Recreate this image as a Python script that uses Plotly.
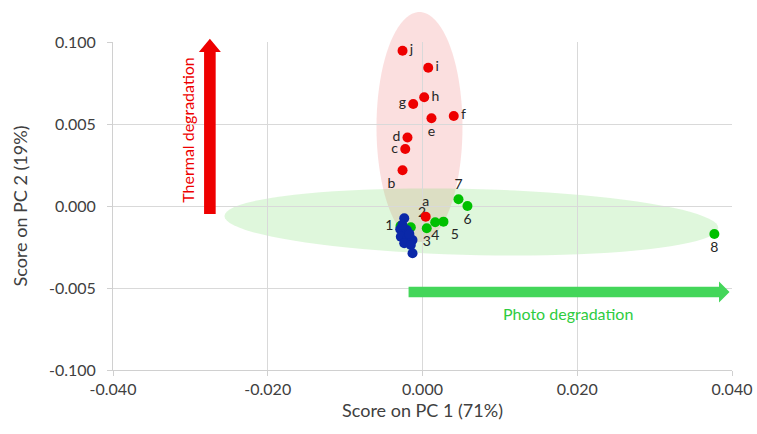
import math
import plotly.graph_objects as go

# ---------------- data ----------------
# PC2 axis is drawn on an index scale: tick positions -2..2 carry the labels below
y_tick_pos = [-2, -1, 0, 1, 2]
y_tick_text = ["-0.100", "-0.005", "0.000", "0.005", "0.100"]
x_tick_vals = [-0.04, -0.02, 0.0, 0.02, 0.04]
x_tick_text = ["-0.040", "-0.020", "0.000", "0.020", "0.040"]

red_labels = ["j", "i", "h", "g", "f", "e", "d", "c", "b", "a"]
red_x = [-0.00258, 0.00074, 0.00022, -0.00120, 0.00404, 0.00116, -0.00194, -0.00223, -0.00258, 0.00041]
red_y = [1.894, 1.687, 1.326, 1.244, 1.098, 1.070, 0.835, 0.695, 0.435, -0.130]
red_pos = ["middle right", "middle right", "middle right", "middle left", "middle right",
           "bottom center", "middle left", "middle left", "bottom left", "top center"]

green_labels = ["1", "2", "3", "4", "5", "6", "7", "8"]
green_x = [-0.00284, -0.00151, 0.00055, 0.00164, 0.00271, 0.00581, 0.00465, 0.03772]
green_y = [-0.244, -0.260, -0.272, -0.199, -0.191, 0.000, 0.082, -0.341]
green_pos = ["middle left", "top right", "bottom center", "bottom center", "bottom right",
             "bottom center", "top center", "bottom center"]

blue_x = [-0.00236, -0.00288, -0.00203, -0.00280, -0.00194, -0.00129, -0.00236, -0.00151, -0.00129, -0.00260, -0.00170]
blue_y = [-0.150, -0.284, -0.293, -0.374, -0.394, -0.415, -0.455, -0.476, -0.577, -0.230, -0.340]

# ---------------- geometry helpers ----------------
W, H = 757, 434
ML, MR, MT, MB = 113, 25, 42, 64
PW, PH = W - ML - MR, H - MT - MB
XR = (-0.04, 0.04)
YR = (-2.0, 2.0)


def to_paper(x, y):
    return (x - XR[0]) / (XR[1] - XR[0]), (y - YR[0]) / (YR[1] - YR[0])


def px_to_paper(dx_px, dy_px):
    return dx_px / PW, dy_px / PH


def ellipse_path(cx, cy, a_px, b_px, rot_deg, n=90):
    px0, py0 = to_paper(cx, cy)
    r = math.radians(rot_deg)
    pts = []
    for i in range(n):
        t = 2 * math.pi * i / n
        dx = a_px * math.cos(t)
        dy = b_px * math.sin(t)
        rx = dx * math.cos(r) - dy * math.sin(r)
        ry = dx * math.sin(r) + dy * math.cos(r)
        ox, oy = px_to_paper(rx, ry)
        pts.append((px0 + ox, py0 + oy))
    return "M " + " L ".join(f"{p[0]:.5f},{p[1]:.5f}" for p in pts) + " Z"


def poly_path(pts):
    return "M " + " L ".join(f"{p[0]:.5f},{p[1]:.5f}" for p in pts) + " Z"


fig = go.Figure()

fig.add_trace(go.Scatter(
    x=green_x, y=green_y, mode="markers+text", text=green_labels, textposition=green_pos,
    marker=dict(color="#00c000", size=10), textfont=dict(size=14, color="#262626"),
    hoverinfo="skip", showlegend=False, cliponaxis=False))
fig.add_trace(go.Scatter(
    x=blue_x, y=blue_y, mode="markers",
    marker=dict(color="#0a28a8", size=10),
    hoverinfo="skip", showlegend=False, cliponaxis=False))
fig.add_trace(go.Scatter(
    x=red_x, y=red_y, mode="markers+text", text=red_labels, textposition=red_pos,
    marker=dict(color="#ee0000", size=10), textfont=dict(size=14, color="#262626"),
    hoverinfo="skip", showlegend=False, cliponaxis=False))

shapes = []
# ellipses (decorations)
shapes.append(dict(type="path", xref="paper", yref="paper", layer="below",
                   path=ellipse_path(-0.00039, 0.963, 43, 115, 0),
                   fillcolor="rgba(240,120,120,0.24)", line=dict(width=0)))
shapes.append(dict(type="path", xref="paper", yref="paper", layer="below",
                   path=ellipse_path(0.00632, -0.195, 247, 33, -1.4),
                   fillcolor="rgba(120,220,110,0.24)", line=dict(width=0)))

# red vertical arrow
rx_c = -0.02748
xc, yb = to_paper(rx_c, -0.098)
_, yhb = to_paper(rx_c, 1.878)
_, ytip = to_paper(rx_c, 2.04)
sw, _ = px_to_paper(5.8, 0)
hw, _ = px_to_paper(11, 0)
shapes.append(dict(type="path", xref="paper", yref="paper", layer="above",
                   path=poly_path([(xc - sw, yb), (xc + sw, yb), (xc + sw, yhb), (xc + hw, yhb),
                                   (xc, ytip), (xc - hw, yhb), (xc - sw, yhb)]),
                   fillcolor="#ee0000", line=dict(width=0)))

# green horizontal arrow
gy_c = -1.049
xs, yc = to_paper(-0.0018, gy_c)
xhb, _ = to_paper(0.03832, gy_c)
xtip, _ = to_paper(0.03968, gy_c)
_, sh = px_to_paper(0, 5.3)
_, hh = px_to_paper(0, 10.5)
shapes.append(dict(type="path", xref="paper", yref="paper", layer="above",
                   path=poly_path([(xs, yc - sh), (xhb, yc - sh), (xhb, yc - hh), (xtip, yc),
                                   (xhb, yc + hh), (xhb, yc + sh), (xs, yc + sh)]),
                   fillcolor="#44d65a", line=dict(width=0)))

annotations = [
    dict(x=-0.0303, y=0.93, xref="x", yref="y", text="Thermal degradation", textangle=-90,
         showarrow=False, font=dict(size=16, color="#ee0000")),
    dict(x=0.01884, y=-1.305, xref="x", yref="y", text="Photo degradation",
         showarrow=False, font=dict(size=16, color="#2ecc40")),
]

fig.update_layout(
    width=W, height=H,
    margin=dict(l=ML, r=MR, t=MT, b=MB, autoexpand=False),
    paper_bgcolor="white", plot_bgcolor="white",
    font=dict(family="Lato, 'Open Sans', sans-serif", size=15, color="#404040"),
    shapes=shapes, annotations=annotations,
    xaxis=dict(range=list(XR), tickvals=x_tick_vals, ticktext=x_tick_text, automargin=False,
               showgrid=True, gridcolor="#d9d9d9", gridwidth=1, zeroline=False,
               showline=True, linecolor="#d0d0d0", ticks="outside", ticklen=5, tickcolor="#d0d0d0",
               tickfont=dict(size=16, color="#404040"),
               title=dict(text="Score on PC 1 (71%)", font=dict(size=18, color="#404040"), standoff=7)),
    yaxis=dict(range=list(YR), tickvals=y_tick_pos, ticktext=y_tick_text, automargin=False,
               showgrid=True, gridcolor="#d9d9d9", gridwidth=1, zeroline=False,
               showline=True, linecolor="#d0d0d0", ticks="outside", ticklen=5, tickcolor="#d0d0d0",
               tickfont=dict(size=16, color="#404040"), ticklabelstandoff=8,
               title=dict(text="Score on PC 2 (19%)", font=dict(size=18, color="#404040"), standoff=16)),
)

# remove the default page margin so the figure sits at the window's top-left corner
fig.write_html("out.html", config={"displayModeBar": False},
               post_script="document.body.style.margin='0';document.body.style.overflow='hidden';")
